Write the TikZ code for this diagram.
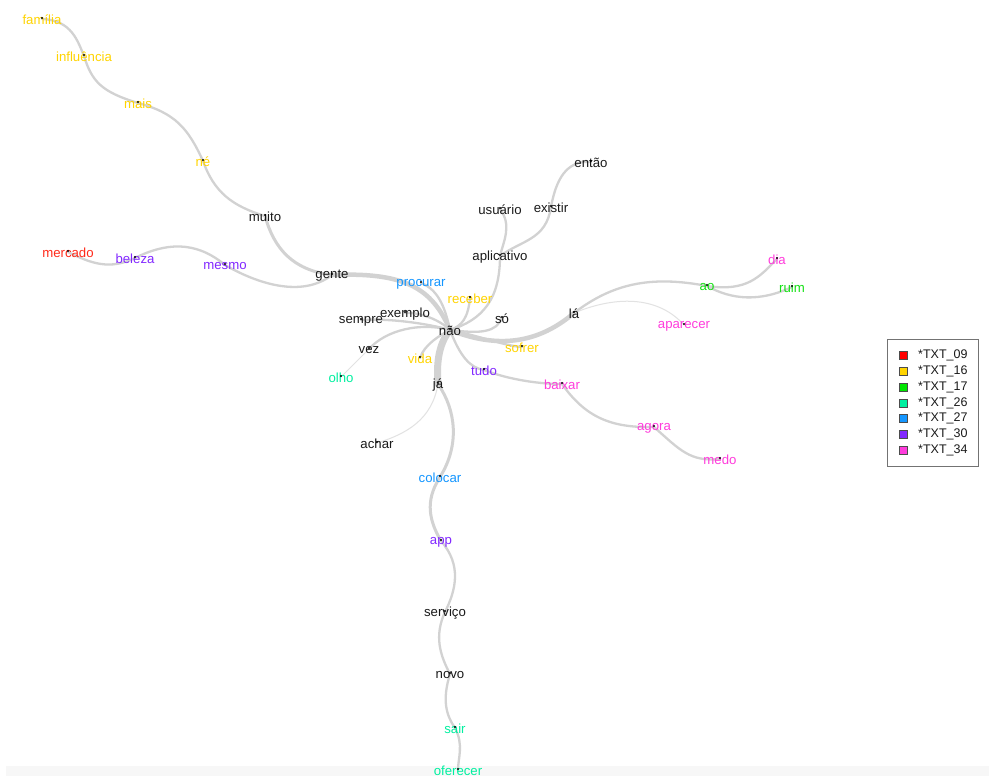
\documentclass[tikz,border=0pt]{standalone}
\usepackage{fontspec}
\setmainfont{Liberation Sans}
\definecolor{cblack}{RGB}{26,26,26}
\definecolor{cyellow}{RGB}{255,212,0}
\definecolor{cred}{RGB}{255,42,26}
\definecolor{cgreen}{RGB}{20,225,20}
\definecolor{cteal}{RGB}{0,240,160}
\definecolor{cblue}{RGB}{20,150,255}
\definecolor{cpurple}{RGB}{130,40,255}
\definecolor{cmagenta}{RGB}{255,60,220}
\definecolor{edgec}{RGB}{210,210,210}
\definecolor{edgel}{RGB}{226,226,226}
\tikzset{
  lbl/.style={inner sep=0pt, yshift=-1pt, font=\fontsize{13.2}{13.2}\selectfont, text=#1},
  ed/.style={draw=edgec, line width=2.3pt, line cap=round},
  edthick/.style={draw=edgec, line width=4.5pt, line cap=round},
  edthin/.style={draw=edgel, line width=1pt, line cap=round},
  legsq/.style={draw=black!70, line width=0.6pt, fill=#1, minimum size=8pt, inner sep=0pt},
  legtxt/.style={inner sep=0pt, anchor=west, font=\fontsize{12.5}{12.5}\selectfont, text=cblack},
  dotc/.style={fill=black}
}
\begin{document}
\begin{tikzpicture}[x=1pt,y=-1pt]
\useasboundingbox (0,0) rectangle (989,776);
\fill[white] (0,0) rectangle (989,776);
\fill[black!3] (6,766) rectangle (989,776);
% coordinates
\coordinate (familia) at (42,19);
\coordinate (influencia) at (84,56);
\coordinate (mais) at (138,103);
\coordinate (ne) at (203,161);
\coordinate (muito) at (265,216);
\coordinate (gente) at (332,275);
\coordinate (mercado) at (68,252);
\coordinate (beleza) at (135,258);
\coordinate (mesmo) at (225,265);
\coordinate (procurar) at (421,283);
\coordinate (receber) at (470,298);
\coordinate (exemplo) at (405,313);
\coordinate (sempre) at (361,320);
\coordinate (nao) at (450,330);
\coordinate (so) at (502,318);
\coordinate (la) at (574,313);
\coordinate (vez) at (369,349);
\coordinate (vida) at (420,358);
\coordinate (sofrer) at (522,347);
\coordinate (olho) at (341,377);
\coordinate (tudo) at (484,370);
\coordinate (ja) at (438,384);
\coordinate (baixar) at (562,384);
\coordinate (aplicativo) at (500,256);
\coordinate (usuario) at (500,209);
\coordinate (existir) at (551,207);
\coordinate (entao) at (591,162);
\coordinate (ao) at (707,286);
\coordinate (dia) at (777,259);
\coordinate (ruim) at (792,287);
\coordinate (aparecer) at (684,325);
\coordinate (agora) at (654,427);
\coordinate (medo) at (720,459);
\coordinate (achar) at (377,443);
\coordinate (colocar) at (440,477);
\coordinate (app) at (441,541);
\coordinate (servico) at (445,612);
\coordinate (novo) at (450,674);
\coordinate (sair) at (455,728);
\coordinate (oferecer) at (458,770);
% edges
\draw[ed] (familia) .. controls (72,20) and (78,42) .. (influencia);
\draw[ed] (influencia) .. controls (92,82) and (102,92) .. (mais);
\draw[ed] (mais) .. controls (175,113) and (188,128) .. (ne);
\draw[ed] (ne) .. controls (214,192) and (232,206) .. (muito);
\draw[line width=3pt, draw=edgec, line cap=round] (muito) .. controls (274,248) and (292,270) .. (gente);
\draw[edthick] (gente) .. controls (405,272) and (432,288) .. (nao);
\draw[ed] (mercado) .. controls (92,264) and (110,270) .. (beleza);
\draw[ed] (beleza) .. controls (165,243) and (195,240) .. (mesmo);
\draw[ed] (mesmo) .. controls (258,284) and (302,298) .. (gente);
\draw[ed] (procurar) .. controls (440,290) and (446,312) .. (nao);
\draw[ed] (receber) .. controls (468,318) and (462,326) .. (nao);
\draw[ed] (aplicativo) .. controls (500,300) and (482,320) .. (nao);
\draw[ed] (usuario) .. controls (512,225) and (504,240) .. (aplicativo);
\draw[ed] (existir) .. controls (546,240) and (522,240) .. (aplicativo);
\draw[ed] (existir) .. controls (556,180) and (566,160) .. (entao);
\draw[ed] (exemplo) .. controls (420,312) and (440,320) .. (nao);
\draw[ed] (sempre) .. controls (390,318) and (430,324) .. (nao);
\draw[ed] (vez) .. controls (386,330) and (420,322) .. (nao);
\draw[edthin] (vez) -- (olho);
\draw[ed] (vida) .. controls (424,345) and (440,335) .. (nao);
\draw[draw=edgec, line width=7pt, line cap=round] (ja) .. controls (436,360) and (440,342) .. (nao);
\draw[ed] (nao) .. controls (482,334) and (496,332) .. (so);
\draw[ed] (nao) .. controls (480,336) and (505,346) .. (sofrer);
\draw[edthick] (nao) .. controls (500,350) and (540,342) .. (la);
\draw[ed] (nao) .. controls (460,356) and (470,368) .. (tudo);
\draw[ed] (tudo) .. controls (510,380) and (540,384) .. (baixar);
\draw[ed] (la) .. controls (612,284) and (650,275) .. (ao);
\draw[ed] (ao) .. controls (748,292) and (760,276) .. (dia);
\draw[ed] (ao) .. controls (732,300) and (760,302) .. (ruim);
\draw[edthin] (la) .. controls (620,294) and (660,298) .. (aparecer);
\draw[ed] (baixar) .. controls (586,418) and (612,428) .. (agora);
\draw[ed] (agora) .. controls (680,450) and (690,462) .. (medo);
\draw[edthin] (ja) .. controls (432,420) and (406,434) .. (achar);
\draw[line width=3pt, draw=edgec, line cap=round] (ja) .. controls (456,410) and (460,445) .. (colocar);
\draw[line width=3pt, draw=edgec, line cap=round] (colocar) .. controls (424,502) and (430,522) .. (app);
\draw[ed] (app) .. controls (462,565) and (456,590) .. (servico);
\draw[ed] (servico) .. controls (434,636) and (440,655) .. (novo);
\draw[ed] (novo) .. controls (442,700) and (446,715) .. (sair);
\draw[ed] (sair) .. controls (464,745) and (458,758) .. (oferecer);
% labels
\node[lbl=cyellow] (t-familia) at (42,19) {família};
\node[lbl=cyellow] (t-influencia) at (84,56) {influência};
\node[lbl=cyellow] (t-mais) at (138,103) {mais};
\node[lbl=cyellow] (t-ne) at (203,161) {né};
\node[lbl=cblack] (t-muito) at (265,216) {muito};
\node[lbl=cblack] (t-gente) at (332,275) {gente};
\node[lbl=cred] (t-mercado) at (68,252) {mercado};
\node[lbl=cpurple] (t-beleza) at (135,258) {beleza};
\node[lbl=cpurple] (t-mesmo) at (225,265) {mesmo};
\node[lbl=cblue] (t-procurar) at (421,283) {procurar};
\node[lbl=cyellow] (t-receber) at (470,298) {receber};
\node[lbl=cblack] (t-exemplo) at (405,313) {exemplo};
\node[lbl=cblack] (t-sempre) at (361,320) {sempre};
\node[lbl=cblack] (t-nao) at (450,330) {não};
\node[lbl=cblack] (t-so) at (502,318) {só};
\node[lbl=cblack] (t-la) at (574,313) {lá};
\node[lbl=cblack] (t-vez) at (369,349) {vez};
\node[lbl=cyellow] (t-vida) at (420,358) {vida};
\node[lbl=cyellow] (t-sofrer) at (522,347) {sofrer};
\node[lbl=cteal] (t-olho) at (341,377) {olho};
\node[lbl=cpurple] (t-tudo) at (484,370) {tudo};
\node[lbl=cblack] (t-ja) at (438,384) {já};
\node[lbl=cmagenta] (t-baixar) at (562,384) {baixar};
\node[lbl=cblack] (t-aplicativo) at (500,256) {aplicativo};
\node[lbl=cblack] (t-usuario) at (500,209) {usuário};
\node[lbl=cblack] (t-existir) at (551,207) {existir};
\node[lbl=cblack] (t-entao) at (591,162) {então};
\node[lbl=cgreen] (t-ao) at (707,286) {ao};
\node[lbl=cmagenta] (t-dia) at (777,259) {dia};
\node[lbl=cgreen] (t-ruim) at (792,287) {ruim};
\node[lbl=cmagenta] (t-aparecer) at (684,325) {aparecer};
\node[lbl=cmagenta] (t-agora) at (654,427) {agora};
\node[lbl=cmagenta] (t-medo) at (720,459) {medo};
\node[lbl=cblack] (t-achar) at (377,443) {achar};
\node[lbl=cblue] (t-colocar) at (440,477) {colocar};
\node[lbl=cpurple] (t-app) at (441,541) {app};
\node[lbl=cblack] (t-servico) at (445,612) {serviço};
\node[lbl=cblack] (t-novo) at (450,674) {novo};
\node[lbl=cteal] (t-sair) at (455,728) {sair};
\node[lbl=cteal] (t-oferecer) at (458,770) {oferecer};
% dots
\foreach \c in {familia,influencia,mais,ne,muito,gente,mercado,beleza,mesmo,procurar,receber,exemplo,sempre,nao,so,la,vez,vida,sofrer,olho,tudo,ja,baixar,aplicativo,usuario,existir,entao,ao,dia,ruim,aparecer,agora,medo,achar,colocar,app,servico,novo,sair,oferecer}
  \fill[dotc] ([yshift=1pt]\c) circle (1.1pt);
% legend
\node[draw=black!55, line width=0.7pt, minimum width=91pt, minimum height=127pt, inner sep=0pt, anchor=north west] (legend) at (887,339) {};
\node[legsq=red] (s1) at (903,355) {};
\node[legsq=cyellow] (s2) at (903,371) {};
\node[legsq=green!90!black] (s3) at (903,387) {};
\node[legsq=cteal] (s4) at (903,403) {};
\node[legsq=cblue] (s5) at (903,418) {};
\node[legsq=cpurple] (s6) at (903,434) {};
\node[legsq=cmagenta] (s7) at (903,450) {};
\node[legtxt] (l1) at (918,355) {*TXT\_09};
\node[legtxt] (l2) at (918,371) {*TXT\_16};
\node[legtxt] (l3) at (918,387) {*TXT\_17};
\node[legtxt] (l4) at (918,403) {*TXT\_26};
\node[legtxt] (l5) at (918,418) {*TXT\_27};
\node[legtxt] (l6) at (918,434) {*TXT\_30};
\node[legtxt] (l7) at (918,450) {*TXT\_34};
\end{tikzpicture}
\end{document}
